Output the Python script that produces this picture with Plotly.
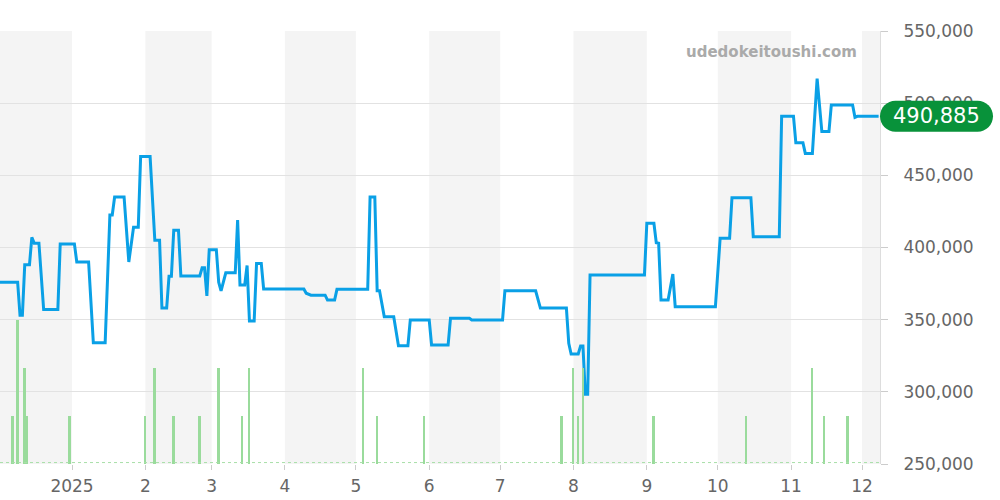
import plotly.graph_objects as go

# ---- price line (vertices) ----
price_dates = [
    "2024-12-01", "2024-12-09", "2024-12-10", "2024-12-11", "2024-12-12", "2024-12-14",
    "2024-12-15", "2024-12-16", "2024-12-18", "2024-12-20", "2024-12-26", "2024-12-27",
    "2025-01-02", "2025-01-03", "2025-01-08", "2025-01-10", "2025-01-15", "2025-01-17",
    "2025-01-18", "2025-01-19", "2025-01-23", "2025-01-25", "2025-01-27", "2025-01-29",
    "2025-01-30", "2025-02-03", "2025-02-05", "2025-02-07", "2025-02-08", "2025-02-10",
    "2025-02-11", "2025-02-12", "2025-02-13", "2025-02-15", "2025-02-16", "2025-02-24",
    "2025-02-25", "2025-02-26", "2025-02-27", "2025-02-28", "2025-03-03", "2025-03-04",
    "2025-03-05", "2025-03-07", "2025-03-11", "2025-03-12", "2025-03-13", "2025-03-15",
    "2025-03-16", "2025-03-17", "2025-03-19", "2025-03-20", "2025-03-22", "2025-03-23",
    "2025-04-09", "2025-04-10", "2025-04-12", "2025-04-18", "2025-04-19", "2025-04-22",
    "2025-04-23", "2025-05-06", "2025-05-07", "2025-05-09", "2025-05-10", "2025-05-11",
    "2025-05-13", "2025-05-17", "2025-05-19", "2025-05-23", "2025-05-24", "2025-06-01",
    "2025-06-02", "2025-06-09", "2025-06-10", "2025-06-18", "2025-06-19", "2025-07-02",
    "2025-07-03", "2025-07-16", "2025-07-18", "2025-07-29", "2025-07-30", "2025-07-31",
    "2025-08-03", "2025-08-04", "2025-08-05", "2025-08-06", "2025-08-07", "2025-08-08",
    "2025-08-31", "2025-09-01", "2025-09-04", "2025-09-05", "2025-09-06", "2025-09-07",
    "2025-09-10", "2025-09-12", "2025-09-13", "2025-09-30", "2025-10-02", "2025-10-06",
    "2025-10-07", "2025-10-15", "2025-10-16", "2025-10-27", "2025-10-28", "2025-11-02",
    "2025-11-03", "2025-11-06", "2025-11-07", "2025-11-10", "2025-11-12", "2025-11-14",
    "2025-11-17", "2025-11-18", "2025-11-27", "2025-11-28", "2025-11-29", "2025-12-08",
]
price_values = [
    376000, 376000, 353000, 353000, 388000, 388000,
    407000, 403000, 403000, 357000, 357000, 402500,
    402500, 390000, 390000, 334000, 334000, 422500,
    422500, 435000, 435000, 390000, 414000, 414000,
    463000, 463000, 405000, 405000, 358000, 358000,
    380000, 380000, 412000, 412000, 380300, 380300,
    386000, 386000, 366500, 398500, 398500, 376000,
    370000, 382500, 382500, 419000, 374000, 374000,
    387500, 349000, 349000, 389000, 389000, 371300,
    371300, 368300, 367000, 367000, 363600, 363600,
    371000, 371000, 435000, 435000, 370000, 370000,
    352000, 352000, 332000, 332000, 349800, 349800,
    332500, 332500, 351000, 351000, 349800, 349800,
    370000, 370000, 358000, 358000, 333600, 326200,
    326200, 331800, 331800, 298300, 298300, 381000,
    381000, 416800, 416800, 403300, 403000, 363600,
    363600, 381600, 359000, 359000, 406400, 406400,
    434500, 434500, 407500, 407500, 491000, 491000,
    472600, 472600, 465200, 465200, 517000, 480300,
    480300, 498700, 498700, 490200, 490885, 490885,
]
last_value = 490885
last_label = "490,885"

# ---- volume bars ----
vol_dates = [
    "2024-12-07", "2024-12-09", "2024-12-12", "2024-12-13", "2024-12-31",
    "2025-02-01", "2025-02-05", "2025-02-13", "2025-02-24", "2025-03-04",
    "2025-03-14", "2025-03-17", "2025-05-04", "2025-05-10", "2025-05-30",
    "2025-07-27", "2025-08-01", "2025-08-03", "2025-08-05", "2025-09-04",
    "2025-10-13", "2025-11-10", "2025-11-15", "2025-11-25",
]
vol_values = [1, 3, 2, 1, 1, 1, 2, 1, 1, 2, 1, 2, 2, 1, 1, 1, 2, 1, 2, 1, 1, 2, 1, 1]

# ---- axes ----
x_range = ["2024-12-01 13:00", "2025-12-08 14:00"]
tick_vals = ["2025-01-01", "2025-02-01", "2025-03-01", "2025-04-01", "2025-05-01",
             "2025-06-01", "2025-07-01", "2025-08-01", "2025-09-01", "2025-10-01",
             "2025-11-01", "2025-12-01"]
tick_text = ["2025", "2", "3", "4", "5", "6", "7", "8", "9", "10", "11", "12"]
y_range = [250000, 550000]
y_ticks = [250000, 300000, 350000, 400000, 450000, 500000, 550000]
shade_starts = ["2024-12-01 13:00", "2025-02-01", "2025-04-01", "2025-06-01",
                "2025-08-01", "2025-10-01", "2025-12-01"]
shade_ends = ["2025-01-01", "2025-03-01", "2025-05-01", "2025-07-01",
              "2025-09-01", "2025-11-01", "2025-12-08 14:00"]

FONT = "DejaVu Sans"
DAY_MS = 86400000

fig = go.Figure()

fig.add_trace(go.Bar(
    x=vol_dates, y=vol_values, yaxis="y2", width=DAY_MS * 0.8,
    marker=dict(color="#9adb9c", line=dict(width=0)), hoverinfo="skip",
))
fig.add_trace(go.Scatter(
    x=x_range, y=[0.03, 0.03], yaxis="y2", mode="lines",
    line=dict(color="#a8dfa8", width=1, dash="dot"), hoverinfo="skip",
))
fig.add_trace(go.Scatter(
    x=price_dates, y=price_values, mode="lines",
    line=dict(color="#0aa0e6", width=3),
))

shapes = []
for s, e in zip(shade_starts, shade_ends):
    shapes.append(dict(type="rect", xref="x", yref="paper", x0=s, x1=e, y0=0, y1=1,
                       fillcolor="#f4f4f4", line=dict(width=0), layer="below"))

# rounded badge for last value (pill, cubic-bezier caps)
w, h = 113, 31
r = h / 2
k = 0.5523 * r
path = (f"M {r},{-r} L {w - r},{-r} "
        f"C {w - r + k},{-r} {w},{-k} {w},0 "
        f"C {w},{k} {w - r + k},{r} {w - r},{r} "
        f"L {r},{r} "
        f"C {r - k},{r} 0,{k} 0,0 "
        f"C 0,{-k} {r - k},{-r} {r},{-r} Z")
shapes.append(dict(type="path", xref="paper", yref="y", xsizemode="pixel", ysizemode="pixel",
                   xanchor=1, yanchor=last_value, path=path,
                   fillcolor="#08923a", line=dict(width=0), layer="above"))

fig.update_layout(
    width=1000, height=500,
    margin=dict(l=0, r=120, t=31, b=36, autoexpand=False),
    paper_bgcolor="white", plot_bgcolor="white",
    showlegend=False, bargap=0,
    font=dict(family=FONT, color="#666666"),
    shapes=shapes,
    xaxis=dict(
        type="date", range=x_range, tickvals=tick_vals, ticktext=tick_text,
        showgrid=False, zeroline=False, ticks="outside", ticklen=5, tickcolor="#cccccc",
        tickfont=dict(size=17, color="#666666", family=FONT), showline=False,
        automargin=False, ticklabelstandoff=2,
    ),
    yaxis=dict(
        range=y_range, tickvals=y_ticks, tickformat=",d", side="right",
        showgrid=True, gridcolor="#e2e2e2", gridwidth=1, zeroline=False,
        ticks="outside", ticklen=7, tickcolor="#cccccc",
        showline=True, linecolor="#dddddd", linewidth=1,
        tickfont=dict(size=17, color="#666666", family=FONT), ticklabelstandoff=12,
        automargin=False,
    ),
    yaxis2=dict(range=[0, 9], overlaying="y", showgrid=False, showticklabels=False,
                zeroline=False, visible=False),
    annotations=[
        dict(text="<b>udedokeitoushi.com</b>", xref="paper", yref="paper", x=0.976, y=0.9505,
             xanchor="right", yanchor="middle", showarrow=False,
             font=dict(size=15, color="#aaaaaa", family=FONT)),
        dict(text=last_label, xref="paper", yref="y", x=1, y=last_value, xshift=56.5,
             xanchor="center", yanchor="middle", showarrow=False,
             font=dict(size=21, color="white", family=FONT)),
    ],
)

fig.write_html("out.html", config={"displayModeBar": False},
               post_script="document.body.style.margin='0';document.body.style.overflow='hidden';")
